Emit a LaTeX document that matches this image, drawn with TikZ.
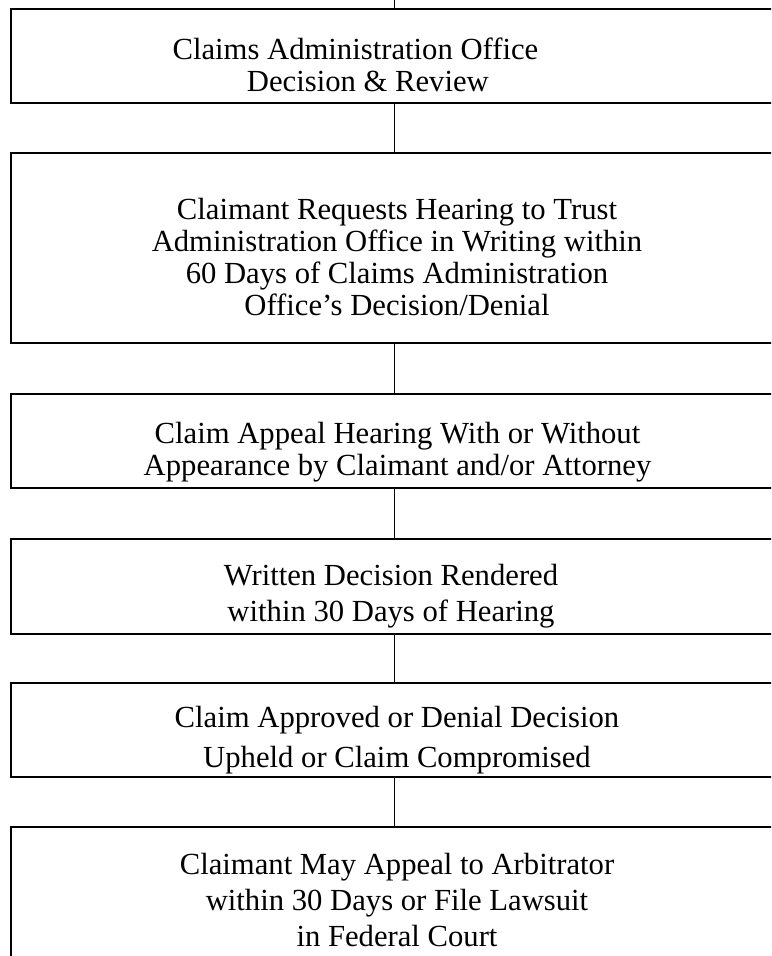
\documentclass[tikz,border=0pt]{standalone}
\usepackage{fontspec}
\setmainfont{Liberation Serif}
\begin{document}
\begin{tikzpicture}[x=0.75pt,y=-0.75pt,
  stepbox/.style={draw=black,line width=1.5pt,rectangle,inner sep=0pt,minimum width=575.5pt},
  boxtext/.style={anchor=base,inner sep=0pt,align=center,text=black},
  link/.style={draw=black,line width=0.8pt}]
\useasboundingbox (0,0) rectangle (771,956);
\clip (0,0) rectangle (771,956);
% boxes
\node[stepbox,minimum height=70.5pt]  (b1) at (394.3,56.3)  {};
\node[stepbox,minimum height=142.5pt] (b2) at (394.3,248.3) {};
\node[stepbox,minimum height=70.7pt]  (b3) at (394.3,441.2) {};
\node[stepbox,minimum height=71.25pt] (b4) at (394.3,586.5) {};
\node[stepbox,minimum height=70.5pt]  (b5) at (394.3,730.3) {};
\node[stepbox,minimum height=106.5pt] (b6) at (394.3,898)   {};
\coordinate (top) at (394.3,-5);
% texts (anchor base = baseline of the last line)
\node[boxtext,font={\fontsize{23pt}{23.8pt}\selectfont}] (t1) at (355.4,91.7)
  {Claims Administration Office\\\hspace*{18.75pt}Decision \& Review};
\node[boxtext,font={\fontsize{23pt}{23.8pt}\selectfont}] (t2) at (397,315)
  {Claimant Requests Hearing to Trust\\Administration Office in Writing within\\60 Days of Claims Administration\\Office’s Decision/Denial};
\node[boxtext,font={\fontsize{23pt}{23.8pt}\selectfont}] (t3) at (397.5,475)
  {Claim Appeal Hearing With or Without\\Appearance by Claimant and/or Attorney};
\node[boxtext,font={\fontsize{23pt}{27pt}\selectfont}] (t4) at (391,621)
  {Written Decision Rendered\\within 30 Days of Hearing};
\node[boxtext,font={\fontsize{23pt}{29.7pt}\selectfont}] (t5) at (397,767.3)
  {Claim Approved or Denial Decision\\Upheld or Claim Compromised};
\node[boxtext,font={\fontsize{23pt}{27.2pt}\selectfont}] (t6) at (397,946.7)
  {Claimant May Appeal to Arbitrator\\within 30 Days or File Lawsuit\\in Federal Court};
% connectors
\draw[link] (top) -- (b1.north);
\draw[link] (b1.south) -- (b2.north);
\draw[link] (b2.south) -- (b3.north);
\draw[link] (b3.south) -- (b4.north);
\draw[link] (b4.south) -- (b5.north);
\draw[link] (b5.south) -- (b6.north);
\end{tikzpicture}
\end{document}
